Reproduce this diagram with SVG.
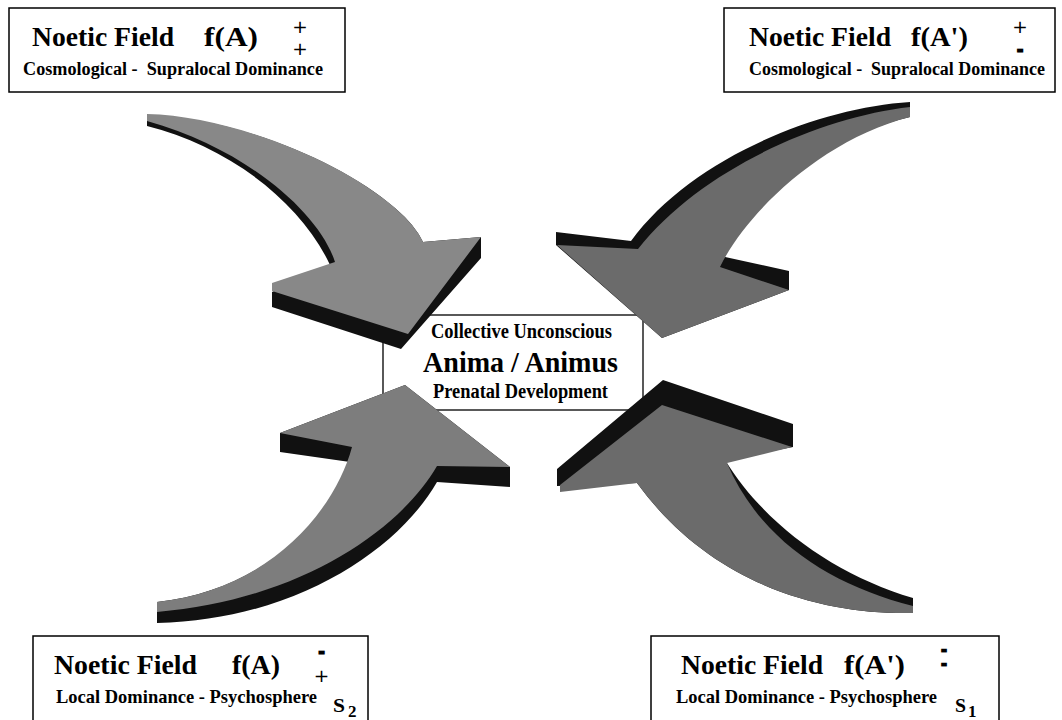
<svg xmlns="http://www.w3.org/2000/svg" width="1062" height="720" viewBox="0 0 1062 720">
<style>
text{font-family:'Liberation Serif','Times New Roman',serif;font-weight:bold;fill:#000;white-space:pre}
.t1{font-size:28px}
.t2{font-size:18px}
.t3{font-size:19px}
.pm{font-family:'DejaVu Sans',sans-serif;font-size:18.5px;font-weight:normal}
.dash{font-size:14px;stroke:#000;stroke-width:2.6}
.box{fill:#fff;stroke:#000;stroke-width:1.5}
.ext{fill:#111}
.fl{fill:#888}
.fbl{fill:#7d7d7d}
.fr{fill:#6b6b6b}
</style>
<rect width="1062" height="720" fill="#fff"/>

<g id="node-top-left">
<rect class="box" x="9" y="8" width="336" height="84"/>
<text class="t1" x="32" y="46" textLength="142" lengthAdjust="spacingAndGlyphs">Noetic Field</text>
<text class="t1" x="204" y="46" textLength="54" lengthAdjust="spacingAndGlyphs">f(A)</text>
<text class="pm" x="300" y="33.1" text-anchor="middle">+</text>
<text class="pm" x="300" y="55" text-anchor="middle">+</text>
<text class="t2" x="23" y="75" textLength="300" lengthAdjust="spacingAndGlyphs">Cosmological -  Supralocal Dominance</text>
</g>

<g id="node-top-right">
<rect class="box" x="724" y="8" width="331" height="84"/>
<text class="t1" x="749" y="46" textLength="142" lengthAdjust="spacingAndGlyphs">Noetic Field</text>
<text class="t1" x="911" y="46" textLength="57" lengthAdjust="spacingAndGlyphs">f(A')</text>
<text class="pm" x="1020" y="33.1" text-anchor="middle">+</text>
<text class="dash" x="1020" y="53.5" text-anchor="middle">-</text>
<text class="t2" x="749" y="75" textLength="296" lengthAdjust="spacingAndGlyphs">Cosmological -  Supralocal Dominance</text>
</g>

<g id="node-bottom-left">
<rect class="box" x="33" y="636" width="335" height="92"/>
<text class="t1" x="54" y="674" textLength="143" lengthAdjust="spacingAndGlyphs">Noetic Field</text>
<text class="t1" x="232" y="674" textLength="48" lengthAdjust="spacingAndGlyphs">f(A)</text>
<text class="dash" x="321.5" y="655.5" text-anchor="middle">-</text>
<text class="pm" x="321.5" y="682" text-anchor="middle">+</text>
<text class="t3" x="56" y="703" textLength="261" lengthAdjust="spacingAndGlyphs">Local Dominance - Psychosphere</text>
<text x="333" y="712" style="font-size:19px" textLength="12" lengthAdjust="spacingAndGlyphs">S</text>
<text x="348" y="717" style="font-size:17px">2</text>
</g>

<g id="node-bottom-right">
<rect class="box" x="651" y="636" width="348" height="92"/>
<text class="t1" x="681" y="674" textLength="142" lengthAdjust="spacingAndGlyphs">Noetic Field</text>
<text class="t1" x="844" y="674" textLength="61" lengthAdjust="spacingAndGlyphs">f(A')</text>
<text class="dash" x="944" y="654" text-anchor="middle" style="font-size:12px">-</text>
<text class="dash" x="944" y="668" text-anchor="middle" style="font-size:12px">-</text>
<text class="t3" x="676" y="703" textLength="261" lengthAdjust="spacingAndGlyphs">Local Dominance - Psychosphere</text>
<text x="955" y="712" style="font-size:19px" textLength="11" lengthAdjust="spacingAndGlyphs">S</text>
<text x="968" y="717" style="font-size:17px">1</text>
</g>

<g id="node-center">
<rect class="box" x="383" y="315" width="260" height="95" style="stroke-width:1.3"/>
<text x="431" y="338" style="font-size:20px" textLength="181" lengthAdjust="spacingAndGlyphs">Collective Unconscious</text>
<text x="423" y="372" style="font-size:29px" textLength="195" lengthAdjust="spacingAndGlyphs">Anima / Animus</text>
<text x="433" y="398" style="font-size:20px" textLength="175" lengthAdjust="spacingAndGlyphs">Prenatal Development</text>
</g>

<g id="connectors">
<g id="arrow-top-left">
<path class="ext" d="M147,116 L147,126 C225,145 300,200 330,265 L272,292 L272,307 L401,349 L481,258 L481,237 L423,242 Q415,225 395,208 C340,160 230,116 147,116 Z"/>
<path class="fl" d="M147,114 C230,116 340,160 395,208 Q415,225 423,242 L481,237 L408,334 L272,291 L272,283 L335,262 C320,215 250,150 147,121 Z"/>
</g>
<g id="arrow-top-right">
<path class="ext" d="M910,102 C815,108 690,160 631,241 L556,232 L556,245 L662,338 L789,290 L789,271 L716,255 C745,210 820,138 910,117 Z"/>
<path class="fr" d="M910,107 C820,117 700,170 638,249 L557,245 L662,338 L789,290 L720,267 C745,215 820,140 910,117 Z"/>
</g>
<g id="arrow-bottom-left">
<path class="ext" d="M405,385 L510,467 L510,487 L437,482 C398,550 295,620 157,623 L157,602 C270,590 335,510 350,462 L280,452 L280,433 Z"/>
<path class="fbl" d="M405,385 L510,467 L437,466 C400,530 300,600 157,612 L157,602 C270,590 335,510 352,447 L280,433 Z"/>
</g>
<g id="arrow-bottom-right">
<path class="ext" d="M663,380 L793,424 L793,447 L725,460 C765,525 835,575 913,598 L913,613 C830,615 715,590 637,483 L557,486 L557,469 Z"/>
<path class="fr" d="M662,405 L792,447 L727,463 C760,540 830,585 913,606 L913,613 C830,615 715,590 637,483 L560,492 L560,485 Z"/>
</g>
</g>
</svg>
